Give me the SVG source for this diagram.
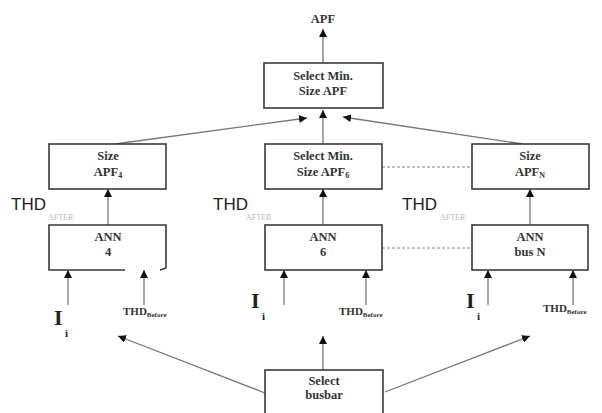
<svg xmlns="http://www.w3.org/2000/svg" width="602" height="413" viewBox="0 0 602 413">
<defs>
<marker id="ah" viewBox="0 0 10 10" refX="10" refY="5" markerWidth="8" markerHeight="8" markerUnits="userSpaceOnUse" orient="auto">
<path d="M0,0 L10,5 L0,10 z" fill="#111"/>
</marker>
<style>
.box{fill:#fff;stroke:#3a3a3a;stroke-width:1.6}
.bt{font-family:"Liberation Serif",serif;font-weight:bold;font-size:12.5px;fill:#333;text-anchor:middle}
.sub{font-size:8px}
.ln{stroke:#777;stroke-width:1.3;fill:none}
.dash{stroke:#888;stroke-width:1;stroke-dasharray:3,2;fill:none}
.thd{font-family:"Liberation Sans",sans-serif;font-size:17px;fill:#222}
.aft{font-family:"Liberation Serif",serif;font-size:8px;fill:#bbb}
.ii{font-family:"Liberation Serif",serif;font-weight:bold;font-size:22px;fill:#222}
.is{font-family:"Liberation Serif",serif;font-weight:bold;font-size:11px;fill:#222}
.thb{font-family:"Liberation Serif",serif;font-weight:bold;font-size:11px;fill:#333}
.thbs{font-family:"Liberation Serif",serif;font-weight:bold;font-size:7px;fill:#333}
</style>
</defs>
<rect width="602" height="413" fill="#fff"/>

<g id="connectors">
<line class="ln" x1="323" y1="63" x2="323" y2="29" marker-end="url(#ah)"/>
<line class="ln" x1="115" y1="144" x2="307" y2="118" marker-end="url(#ah)"/>
<line class="ln" x1="323" y1="144" x2="323" y2="110" marker-end="url(#ah)"/>
<line class="ln" x1="523" y1="144" x2="343" y2="117" marker-end="url(#ah)"/>
<line class="ln" x1="108" y1="225" x2="108" y2="189" marker-end="url(#ah)"/>
<line class="ln" x1="323" y1="225" x2="323" y2="189" marker-end="url(#ah)"/>
<line class="ln" x1="530" y1="225" x2="530" y2="189" marker-end="url(#ah)"/>
<line class="dash" x1="382" y1="167" x2="472" y2="167"/>
<line class="dash" x1="382" y1="248" x2="472" y2="248"/>
<line class="ln" x1="68" y1="305" x2="68" y2="270" marker-end="url(#ah)"/>
<line class="ln" x1="144" y1="305" x2="144" y2="270" marker-end="url(#ah)"/>
<line class="ln" x1="284" y1="305" x2="284" y2="270" marker-end="url(#ah)"/>
<line class="ln" x1="366" y1="305" x2="366" y2="270" marker-end="url(#ah)"/>
<line class="ln" x1="488" y1="305" x2="488" y2="270" marker-end="url(#ah)"/>
<line class="ln" x1="573" y1="305" x2="573" y2="270" marker-end="url(#ah)"/>
<line class="ln" x1="265" y1="393" x2="118" y2="336" marker-end="url(#ah)"/>
<line class="ln" x1="323" y1="370" x2="323" y2="336" marker-end="url(#ah)"/>
<line class="ln" x1="385" y1="392" x2="530" y2="336" marker-end="url(#ah)"/>
</g>

<g id="apf-out">
<text class="bt" x="323" y="23">APF</text>
</g>

<g id="select-min-top">
<rect class="box" x="264" y="63" width="119" height="45"/>
<text class="bt" x="323" y="80">Select Min.</text>
<text class="bt" x="323" y="95">Size APF</text>
</g>

<g id="size-apf4">
<rect class="box" x="49" y="144" width="117" height="45"/>
<text class="bt" x="108" y="160">Size</text>
<text class="bt" x="108" y="176">APF<tspan class="sub" dy="2">4</tspan></text>
</g>

<g id="select-min-apf6">
<rect class="box" x="265" y="144" width="117" height="45"/>
<text class="bt" x="323" y="160">Select Min.</text>
<text class="bt" x="323" y="176">Size APF<tspan class="sub" dy="2">6</tspan></text>
</g>

<g id="size-apfn">
<rect class="box" x="472" y="144" width="117" height="45"/>
<text class="bt" x="530" y="160">Size</text>
<text class="bt" x="530" y="176">APF<tspan class="sub" dy="2">N</tspan></text>
</g>

<g id="thd-after-labels">
<text class="thd" x="11" y="210">THD</text>
<text class="aft" x="48" y="220">AFTER</text>
<text class="thd" x="213" y="210">THD</text>
<text class="aft" x="246" y="220">AFTER</text>
<text class="thd" x="402" y="210">THD</text>
<text class="aft" x="440" y="220">AFTER</text>
</g>

<g id="ann4">
<path class="box" d="M125,270 L49,270 L49,225 L166,225 L166,268 L160,270" />
<text class="bt" x="108" y="241">ANN</text>
<text class="bt" x="108" y="256">4</text>
</g>

<g id="ann6">
<rect class="box" x="265" y="225" width="117" height="45"/>
<text class="bt" x="323" y="241">ANN</text>
<text class="bt" x="323" y="256">6</text>
</g>

<g id="annN">
<rect class="box" x="472" y="225" width="116" height="45"/>
<text class="bt" x="530" y="241">ANN</text>
<text class="bt" x="530" y="256">bus N</text>
</g>

<g id="inputs">
<text class="ii" x="54" y="325">I</text>
<text class="is" x="65" y="337">i</text>
<text class="thb" x="123" y="315">THD<tspan class="thbs" dy="2">Before</tspan></text>
<text class="ii" x="251" y="308">I</text>
<text class="is" x="262" y="320">i</text>
<text class="thb" x="339" y="315">THD<tspan class="thbs" dy="2">Before</tspan></text>
<text class="ii" x="466" y="308">I</text>
<text class="is" x="477" y="320">i</text>
<text class="thb" x="543" y="312">THD<tspan class="thbs" dy="2">Before</tspan></text>
</g>

<g id="select-busbar">
<rect class="box" x="265" y="370" width="118" height="50"/>
<text class="bt" x="324" y="385">Select</text>
<text class="bt" x="324" y="399">busbar</text>
</g>
</svg>
